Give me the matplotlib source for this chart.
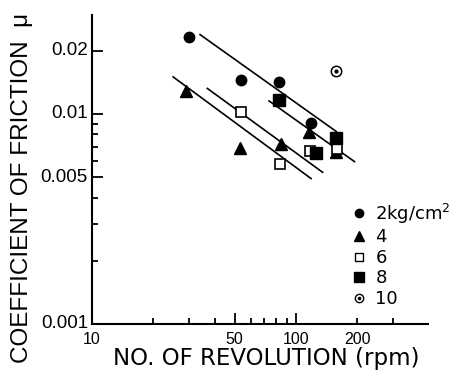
import matplotlib
matplotlib.use("Agg")
import matplotlib.pyplot as plt
from matplotlib.lines import Line2D
from matplotlib.ticker import FixedLocator, NullFormatter

plt.rcParams['font.family'] = ['Liberation Sans', 'DejaVu Sans']
plt.rcParams['mathtext.default'] = 'regular'

# ---- data ----
rpm_p2 = [30, 54, 83, 118]
mu_p2 = [0.0233, 0.0145, 0.0142, 0.0091]

rpm_p4 = [29, 53, 84, 116, 157]
mu_p4 = [0.0129, 0.0069, 0.0072, 0.0082, 0.0066]

rpm_p6 = [53.5, 83.5, 117, 159]
mu_p6 = [0.0102, 0.0058, 0.0067, 0.0068]

rpm_p8 = [83, 125, 157]
mu_p8 = [0.0117, 0.0065, 0.0077]

rpm_p10 = [157]
mu_p10 = [0.0160]

# fitted lines: (x start, x end), (y start, y end)
line1_x = [33.6, 159]
line1_y = [0.0240, 0.0082]
line2_x = [73.2, 195]
line2_y = [0.0116, 0.0059]
line3_x = [36.5, 136]
line3_y = [0.0133, 0.00525]
line4_x = [24.8, 119.4]
line4_y = [0.0151, 0.0049]

legend_labels = ['2kg/cm$^2$', '4', '6', '8', '10']

x_tick_labels_pos = [10, 50, 100, 200]
x_tick_labels = ['10', '50', '100', '200']
y_tick_labels_pos = [0.001, 0.005, 0.01, 0.02]
y_tick_labels = ['0.001', '0.005', '0.01', '0.02']

# ---- figure ----
fig = plt.figure(figsize=(4.62, 3.77), dpi=100)
ax = fig.add_axes([92 / 462, 53 / 377, 336 / 462, 309 / 377])
ax.set_xscale('log')
ax.set_yscale('log')
ax.set_xlim(10, 443.6)
ax.set_ylim(0.001, 0.0296)

for lx, ly in [(line1_x, line1_y), (line2_x, line2_y), (line3_x, line3_y), (line4_x, line4_y)]:
    ax.plot(lx, ly, color='black', lw=1.2, solid_capstyle='butt')

ax.plot(rpm_p2, mu_p2, 'o', color='black', ms=7.5, ls='none')
ax.plot(rpm_p4, mu_p4, '^', color='black', ms=8.5, ls='none')
ax.plot(rpm_p6, mu_p6, 's', mfc='white', mec='black', mew=1.2, ms=7.5, ls='none')
ax.plot(rpm_p8, mu_p8, 's', color='black', ms=8, ls='none')
ax.plot(rpm_p10, mu_p10, 'o', mfc='white', mec='black', mew=1.1, ms=7.5, ls='none')
ax.plot(rpm_p10, mu_p10, 'o', color='black', ms=2, ls='none')

# spines
for s in ['top', 'right']:
    ax.spines[s].set_visible(False)
for s in ['left', 'bottom']:
    ax.spines[s].set_linewidth(1.5)

# ticks
ax.xaxis.set_major_locator(FixedLocator([50, 100]))
ax.xaxis.set_major_formatter(NullFormatter())
ax.xaxis.set_minor_locator(FixedLocator([20, 30, 40, 60, 70, 80, 90, 200, 300]))
ax.xaxis.set_minor_formatter(NullFormatter())
ax.yaxis.set_major_locator(FixedLocator([0.005, 0.01, 0.02]))
ax.yaxis.set_major_formatter(NullFormatter())
ax.yaxis.set_minor_locator(FixedLocator([0.002, 0.003, 0.004, 0.006, 0.007, 0.008, 0.009]))
ax.yaxis.set_minor_formatter(NullFormatter())
ax.tick_params(which='major', direction='in', length=8, width=1.3)
ax.tick_params(which='minor', direction='in', length=4.5, width=1.3)

for v, t in zip(x_tick_labels_pos, x_tick_labels):
    ax.text(v, -0.025, t, transform=ax.get_xaxis_transform(), ha='center', va='top', fontsize=11.5)
for v, t in zip(y_tick_labels_pos, y_tick_labels):
    ax.text(-0.012, v, t, transform=ax.get_yaxis_transform(), ha='right', va='center', fontsize=13.5)

fig.text(266 / 462, 1 - 358 / 377, 'NO. OF REVOLUTION (rpm)', ha='center', va='center',
         fontsize=16.5, family='DejaVu Sans')
fig.text(22 / 462, 1 - 188 / 377, 'COEFFICIENT OF FRICTION  μ', rotation=90,
         ha='center', va='center', fontsize=17.5)

handles = [
    Line2D([], [], marker='o', color='black', ls='none', ms=6),
    Line2D([], [], marker='^', color='black', ls='none', ms=7),
    Line2D([], [], marker='s', mfc='white', mec='black', ls='none', ms=6),
    Line2D([], [], marker='s', color='black', ls='none', ms=6.5),
    (Line2D([], [], marker='o', mfc='white', mec='black', ls='none', ms=6),
     Line2D([], [], marker='o', color='black', ls='none', ms=1.6)),
]
leg = ax.legend(handles, legend_labels, loc='upper left', bbox_to_anchor=(0.747, 0.425),
                frameon=False, handlelength=0.8, handletextpad=0.5,
                labelspacing=0.14, borderpad=0,
                prop={'family': 'DejaVu Sans', 'size': 13})

fig.savefig('out.png', dpi=100)
